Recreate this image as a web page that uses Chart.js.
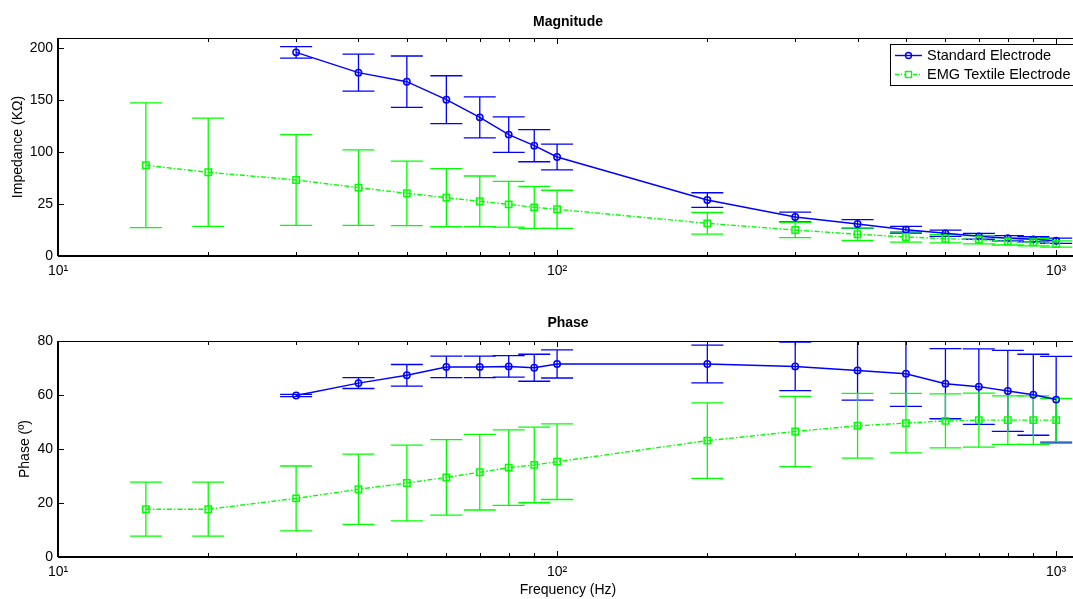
<!DOCTYPE html>
<html>
<head>
<meta charset="utf-8">
<script src="https://cdn.jsdelivr.net/npm/chart.js@4.4.0/dist/chart.umd.min.js"></script>
<style>
  html, body { margin: 0; padding: 0; background: #fff; overflow: hidden; }
  #wrap { position: relative; width: 1073px; height: 599px; overflow: hidden; }
  canvas { position: absolute; left: 0; }
  #magChart { top: 0; }
  #phaseChart { top: 300px; }
</style>
</head>
<body>
<div id="wrap">
  <canvas id="magChart" width="1084" height="300"></canvas>
  <canvas id="phaseChart" width="1084" height="299"></canvas>
</div>
<script>
// frequencies (Hz)
const freqStandard = [30, 40, 50, 60, 70, 80, 90, 100, 200, 300, 400, 500, 600, 700, 800, 900, 1000];
const freqTextile = [15, 20, 30, 40, 50, 60, 70, 80, 90, 100, 200, 300, 400, 500, 600, 700, 800, 900, 1000];

// magnitude (KOhm) and std
const magStandard = [195.8, 176.3, 167.6, 150.3, 133.3, 116.7, 106.1, 95.2, 53.8, 37.5, 30.8, 25.3, 21.8, 18.9, 17.0, 16.0, 14.7];
const magStandardErr = [5.6, 17.8, 24.7, 23.0, 19.7, 17.0, 15.5, 12.3, 7.0, 4.7, 4.2, 3.2, 3.0, 2.8, 2.5, 2.5, 2.5];
const magTextile = [87.2, 80.5, 73.1, 65.7, 60.3, 56.1, 52.6, 49.7, 46.8, 44.9, 31.4, 25.0, 20.9, 18.3, 16.6, 15.7, 14.1, 13.2, 11.5];
const magTextileErr = [60.0, 52.0, 43.6, 36.3, 31.0, 28.0, 24.3, 22.0, 20.2, 18.3, 10.4, 7.4, 6.0, 5.0, 4.0, 4.0, 3.5, 3.5, 3.0];

// phase (deg) and std
const phaseStandard = [59.8, 64.4, 67.3, 70.4, 70.4, 70.6, 70.1, 71.5, 71.5, 70.6, 69.1, 67.9, 64.2, 63.1, 61.5, 60.1, 58.3];
const phaseStandardErr = [0.4, 2.0, 4.0, 4.0, 4.0, 4.0, 5.0, 5.2, 7.0, 9.0, 11.0, 12.1, 13.0, 14.0, 15.0, 15.0, 16.0];
const phaseTextile = [17.7, 17.7, 21.7, 25.1, 27.4, 29.5, 31.4, 33.1, 34.1, 35.3, 43.1, 46.5, 48.6, 49.6, 50.4, 50.7, 50.7, 50.7, 50.7];
const phaseTextileErr = [10, 10, 12, 13, 14, 14, 14, 14, 14, 14, 14, 13, 12, 11, 10, 10, 9, 9, 8];

// ticks
const xMajorTicks = [10, 100, 1000];
const xTickLabels = ['10\u00B9', '10\u00B2', '10\u00B3'];
const xMinorTicks = [20, 30, 40, 50, 60, 70, 80, 90, 200, 300, 400, 500, 600, 700, 800, 900];
const magTickValues = [0, 50, 100, 150, 200];
const magTickLabels = ['0', '25', '100', '150', '200'];
const phaseTickValues = [0, 20, 40, 60, 80];
const phaseTickLabels = ['0', '20', '40', '60', '80'];

const seriesNames = ['Standard Electrode', 'EMG Textile Electrode'];
const BLUE = '#0000ff';
const GREEN = '#00ff00';
const FONT = '"Liberation Sans", Arial, sans-serif';

Chart.defaults.font.family = FONT;
Chart.defaults.color = '#000';

const errorBarPlugin = {
    id: 'errorBars',
    beforeDatasetsDraw(chart) {
        const { ctx, chartArea: a, scales: { x, y } } = chart;
        ctx.save();
        ctx.beginPath();
        ctx.rect(a.left, a.top, a.right - a.left, a.bottom - a.top);
        ctx.clip();
        chart.data.datasets.forEach(ds => {
            ctx.strokeStyle = ds.borderColor;
            ctx.lineWidth = 1.3;
            ds.data.forEach((p, i) => {
                const px = x.getPixelForValue(p.x);
                const top = y.getPixelForValue(p.y + ds.errors[i]);
                const bot = y.getPixelForValue(p.y - ds.errors[i]);
                ctx.beginPath();
                ctx.moveTo(px, top); ctx.lineTo(px, bot);
                ctx.moveTo(px - 16, top); ctx.lineTo(px + 16, top);
                ctx.moveTo(px - 16, bot); ctx.lineTo(px + 16, bot);
                ctx.stroke();
            });
        });
        ctx.restore();
    }
};

const axesBoxPlugin = {
    id: 'axesBox',
    afterDraw(chart, args, opts) {
        const { ctx, chartArea: a, scales: { x, y } } = chart;
        ctx.save();
        ctx.strokeStyle = '#000';
        ctx.lineWidth = 1;
        ctx.beginPath();
        const xTick = (v, len) => {
            const px = Math.round(x.getPixelForValue(v)) + 0.5;
            ctx.moveTo(px, a.bottom); ctx.lineTo(px, a.bottom - len);
            ctx.moveTo(px, a.top); ctx.lineTo(px, a.top + len);
        };
        xMajorTicks.forEach(v => xTick(v, 6));
        xMinorTicks.forEach(v => xTick(v, 4));
        y.ticks.forEach(t => {
            const py = Math.round(y.getPixelForValue(t.value)) + 0.5;
            ctx.moveTo(a.left, py); ctx.lineTo(a.left + 6, py);
        });
        ctx.stroke();

        // box
        ctx.strokeRect(Math.round(a.left) + 0.5, Math.round(a.top) + 0.5, Math.round(a.right - a.left), Math.round(a.bottom - a.top));
        ctx.lineWidth = 2;
        ctx.beginPath();
        ctx.moveTo(a.left, Math.round(a.bottom));
        ctx.lineTo(a.right, Math.round(a.bottom));
        ctx.moveTo(Math.round(a.left), a.top);
        ctx.lineTo(Math.round(a.left), a.bottom);
        ctx.stroke();

        // title
        ctx.fillStyle = '#000';
        ctx.font = 'bold 14px ' + FONT;
        ctx.textAlign = 'center';
        ctx.textBaseline = 'middle';
        ctx.fillText(opts.title, (a.left + a.right) / 2, opts.titleY);

        if (opts.legend) {
            const lx = 890.5, ly = 44.5;
            ctx.fillStyle = '#fff';
            ctx.fillRect(lx, ly, 200, 41);
            ctx.lineWidth = 1;
            ctx.strokeStyle = '#000';
            ctx.strokeRect(lx, ly, 200, 41);

            // standard
            ctx.strokeStyle = BLUE;
            ctx.lineWidth = 1.4;
            ctx.beginPath();
            ctx.moveTo(895, 55.5); ctx.lineTo(922, 55.5);
            ctx.stroke();
            ctx.beginPath();
            ctx.arc(908.5, 55.5, 3, 0, Math.PI * 2);
            ctx.stroke();

            // textile
            ctx.strokeStyle = GREEN;
            ctx.setLineDash([4, 2, 1, 2]);
            ctx.beginPath();
            ctx.moveTo(895, 74.5); ctx.lineTo(922, 74.5);
            ctx.stroke();
            ctx.setLineDash([]);
            ctx.fillStyle = '#fff';
            ctx.fillRect(905.5, 71.5, 6, 6);
            ctx.strokeRect(905.5, 71.5, 6, 6);

            ctx.fillStyle = '#000';
            ctx.font = '14.5px ' + FONT;
            ctx.textAlign = 'left';
            ctx.fillText(seriesNames[0], 927, 56);
            ctx.fillText(seriesNames[1], 927, 75);
        }
        ctx.restore();
    }
};

function makeChart(canvasId, cfg) {
    const ctx = document.getElementById(canvasId).getContext('2d');
    return new Chart(ctx, {
        type: 'line',
        data: {
            datasets: [
                {
                    label: seriesNames[0],
                    data: freqStandard.map((f, i) => ({ x: f, y: cfg.standard[i] })),
                    errors: cfg.standardErr,
                    borderColor: BLUE,
                    borderWidth: 1.5,
                    pointStyle: 'circle',
                    pointRadius: 3.2,
                    pointBorderWidth: 1.5,
                    pointBorderColor: BLUE,
                    pointBackgroundColor: 'rgba(0,0,0,0)',
                    tension: 0,
                    fill: false,
                    order: 1
                },
                {
                    label: seriesNames[1],
                    data: freqTextile.map((f, i) => ({ x: f, y: cfg.textile[i] })),
                    errors: cfg.textileErr,
                    borderColor: GREEN,
                    borderWidth: 1.4,
                    borderDash: [5, 2, 1.5, 2],
                    pointStyle: 'rect',
                    pointRadius: 4.5,
                    pointBorderWidth: 1.5,
                    pointBorderColor: GREEN,
                    pointBackgroundColor: 'rgba(0,0,0,0)',
                    tension: 0,
                    fill: false,
                    order: 0
                }
            ]
        },
        options: {
            responsive: false,
            animation: false,
            devicePixelRatio: 1,
            layout: { padding: { top: cfg.padTop, right: 2, left: 0, bottom: 0 } },
            plugins: {
                legend: { display: false },
                tooltip: { enabled: false },
                axesBox: { title: cfg.title, titleY: cfg.titleY, legend: cfg.legend }
            },
            scales: {
                x: {
                    type: 'logarithmic',
                    min: 10,
                    max: 1106,
                    afterBuildTicks: ax => { ax.ticks = xMajorTicks.map(v => ({ value: v })); },
                    afterFit: ax => { ax.height = cfg.xHeight; },
                    grid: { display: false, drawTicks: false },
                    border: { display: false },
                    ticks: {
                        padding: 7,
                        maxRotation: 0,
                        autoSkip: false,
                        color: '#000',
                        font: { size: 14 },
                        callback: (v, i) => xTickLabels[i]
                    },
                    title: {
                        display: cfg.xTitle !== '',
                        text: cfg.xTitle,
                        color: '#000',
                        font: { size: 14 },
                        padding: { top: 0, bottom: 0 }
                    }
                },
                y: {
                    type: 'linear',
                    min: 0,
                    max: cfg.yMax,
                    afterBuildTicks: ax => { ax.ticks = cfg.yTicks.map(v => ({ value: v })); },
                    afterFit: ax => { ax.width = 58; },
                    grid: { display: false, drawTicks: false },
                    border: { display: false },
                    ticks: {
                        padding: 5,
                        autoSkip: false,
                        color: '#000',
                        font: { size: 14 },
                        callback: (v, i) => cfg.yLabels[i]
                    },
                    title: {
                        display: true,
                        text: cfg.yTitle,
                        color: '#000',
                        font: { size: 14 },
                        padding: { top: cfg.yTitlePad, bottom: 0 }
                    }
                }
            }
        },
        plugins: [errorBarPlugin, axesBoxPlugin]
    });
}

makeChart('magChart', {
    standard: magStandard, standardErr: magStandardErr,
    textile: magTextile, textileErr: magTextileErr,
    yMax: 209.6, yTicks: magTickValues, yLabels: magTickLabels,
    yTitle: 'Impedance (K\u03A9)', yTitlePad: 10,
    xTitle: '', xHeight: 44, padTop: 38,
    title: 'Magnitude', titleY: 22, legend: true
});

makeChart('phaseChart', {
    standard: phaseStandard, standardErr: phaseStandardErr,
    textile: phaseTextile, textileErr: phaseTextileErr,
    yMax: 80, yTicks: phaseTickValues, yLabels: phaseTickLabels,
    yTitle: 'Phase (\u00BA)', yTitlePad: 17,
    xTitle: 'Frequency (Hz)', xHeight: 42, padTop: 41,
    title: 'Phase', titleY: 23, legend: false
});
</script>
</body>
</html>
